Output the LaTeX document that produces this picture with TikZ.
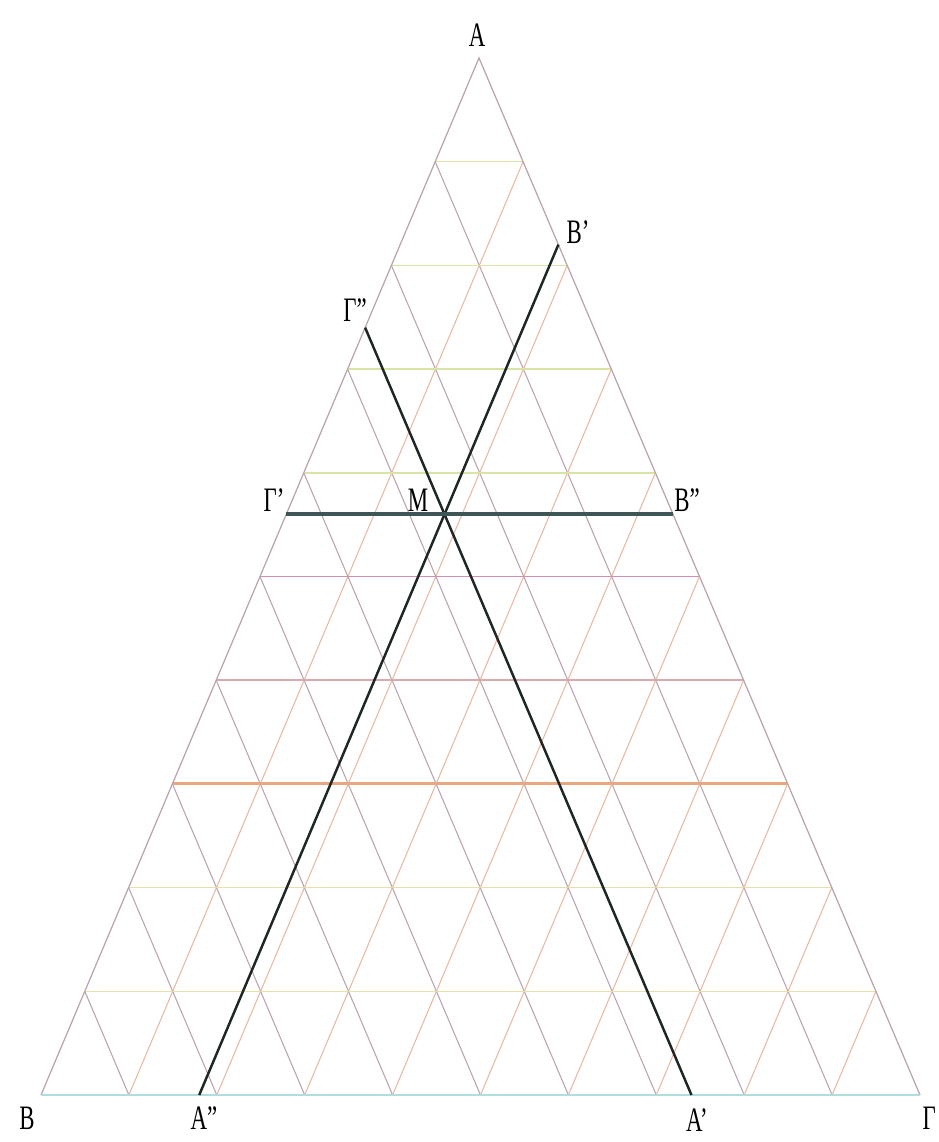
\documentclass[tikz,border=0pt]{standalone}
\usepackage{fontspec}
\setmainfont{Liberation Serif}
\usetikzlibrary{calc}
\definecolor{gridmauve}{HTML}{B9A3AE}
\definecolor{gridpeach}{HTML}{E9B8A2}
\definecolor{lvlyellow}{HTML}{E6E0A8}
\definecolor{lvlgreen}{HTML}{D8E4A4}
\definecolor{lvlorange}{HTML}{E8A77E}
\definecolor{lvlpink}{HTML}{D8AAB0}
\definecolor{lvlmagenta}{HTML}{D58EB4}
\definecolor{basecyan}{HTML}{AEDFDB}
\definecolor{slate}{HTML}{3E5656}
\definecolor{ink}{HTML}{1E2626}
\newcommand{\tall}[1]{\scalebox{1}[1.5]{#1}}

\begin{document}
\begin{tikzpicture}[x=0.02cm, y=-0.02cm, font=\fontsize{13}{15}\selectfont]
  \useasboundingbox (0,0) rectangle (938,1142);
  \coordinate (A) at (479,58);
  \coordinate (B) at (41,1095);
  \coordinate (G) at (920,1095);
  % triangular grid, ten parts on each side
  \foreach \i in {1,...,9}{
    \draw[gridpeach, line width=0.6pt] ($(B)!\i/10!(G)$) -- ($(A)!\i/10!(G)$);
    \draw[gridmauve, line width=0.6pt] ($(B)!\i/10!(G)$) -- ($(B)!\i/10!(A)$);
  }
  % levels parallel to the base
  \foreach \i/\c/\w in {1/lvlyellow/0.8, 2/lvlyellow/0.8, 3/lvlorange/1.7, 4/lvlpink/1.1,
                        5/lvlmagenta/1.1, 6/lvlgreen/0.9, 7/lvlgreen/0.8, 8/lvlgreen/0.8, 9/lvlgreen/0.9}{
    \draw[\c, line width=\w pt] ($(B)!\i/10!(A)$) -- ($(G)!\i/10!(A)$);
  }
  \draw[gridmauve, line width=0.7pt] (B) -- (A) -- (G);
  \draw[basecyan, line width=1.1pt] (B) -- (G);
  % the three lines through M
  \coordinate (A2) at ($(B)!0.18!(G)$);
  \coordinate (A1) at ($(G)!0.26!(B)$);
  \coordinate (B1) at ($(A)!0.18!(G)$);
  \coordinate (G2) at ($(B)!0.74!(A)$);
  \coordinate (G1) at ($(B)!0.56!(A)$);
  \coordinate (B2) at ($(G)!0.56!(A)$);
  \coordinate (M) at (intersection of A2--B1 and A1--G2);
  \draw[ink, line width=1.4pt] (A2) -- (B1);
  \draw[ink, line width=1.4pt] (A1) -- (G2);
  \draw[slate, line width=2.3pt] (G1) -- (B2);
  % labels
  \node (lA) at (477,35) {\tall{Α}};
  \node (lB) at (27,1118) {\tall{Β}};
  \node[anchor=east, inner sep=1pt] (lG) at (938,1118) {\tall{Γ}};
  \node (lB1) at (578,232) {\tall{Β'}};
  \node (lG2) at (355,310) {\tall{Γ''}};
  \node (lG1) at (274,500) {\tall{Γ'}};
  \node (lM) at (418,500) {\tall{Μ}};
  \node (lB2) at (687,500) {\tall{Β''}};
  \node (lA2) at (204,1118) {\tall{Α''}};
  \node (lA1) at (697,1120) {\tall{Α'}};
\end{tikzpicture}
\end{document}
